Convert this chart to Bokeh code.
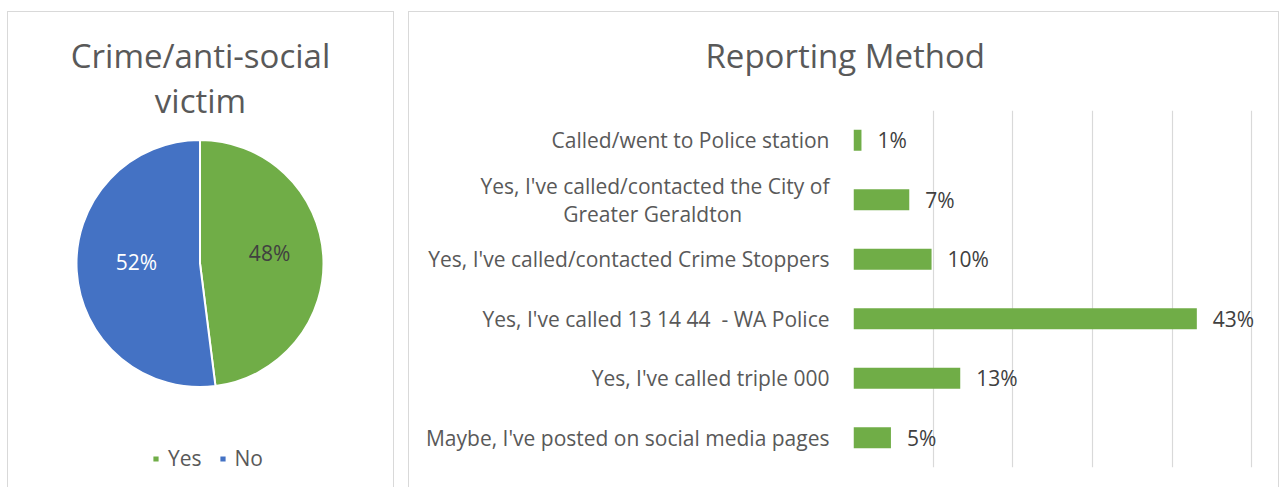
import math
from bokeh.plotting import figure
from bokeh.models import (Range1d, FactorRange, Label, Title, ColumnDataSource,
                          Legend, LegendItem, FixedTicker)
from bokeh.embed import file_html
from bokeh.resources import INLINE
from bokeh.core.properties import value

# ---------------- data ----------------
pie_title_lines = ["Crime/anti-social", "victim"]
pie_labels = ["Yes", "No"]
pie_values = [48, 52]
pie_colors = ["#70AD47", "#4472C4"]
pie_text_colors = ["#404040", "#FFFFFF"]

bar_title = "Reporting Method"
# (non-breaking spaces keep Excel's centred wrap and the double space visible)
methods = [
    "Called/went to Police station",
    "Yes, I've called/contacted the City of\nGreater Geraldton" + "\u00a0" * 16,
    "Yes, I've called/contacted Crime Stoppers",
    "Yes, I've called 13 14 44\u00a0 - WA Police",
    "Yes, I've called triple 000",
    "Maybe, I've posted on social media pages",
]
method_values = [1.0, 7.0, 9.8, 43.1, 13.4, 4.7]
x_ticks = [0, 10, 20, 30, 40, 50]

# ---------------- style ----------------
FONT = "Open Sans"
TXT = "#595959"
DARK = "#404040"
GRID = "#D9D9D9"
H = 476
FS = "21px"

def panel_style(left, top):
    return {"border": "1px solid #D9D9D9", "border-bottom": "none",
            "position": "absolute", "left": f"{left}px", "top": f"{top}px"}

# ---------------- pie ----------------
W1 = 387
p1 = figure(width=W1, height=H, x_range=Range1d(0, W1), y_range=Range1d(0, H),
            output_backend="svg", toolbar_location=None, min_border=0)
p1.axis.visible = False
p1.grid.visible = False
p1.outline_line_color = None
p1.styles = panel_style(7, 11)

def fy(y_from_top):
    return H - y_from_top

cx, cy, R = 191.5, fy(251), 123.5
total = sum(pie_values)
starts, ends, lx, ly, ltxt = [], [], [], [], []
cum = 0
for v in pie_values:
    a0 = math.pi / 2 - 2 * math.pi * cum / total
    a1 = math.pi / 2 - 2 * math.pi * (cum + v) / total
    starts.append(a0)
    ends.append(a1)
    mid = (a0 + a1) / 2
    lx.append(cx + 0.54 * R * math.cos(mid) + 3)
    ly.append(cy + 0.54 * R * math.sin(mid) + 6)
    ltxt.append(f"{round(100 * v / total)}%")
    cum += v

src1 = ColumnDataSource(dict(label=pie_labels, start=starts, end=ends, color=pie_colors,
                             lx=lx, ly=ly, txt=ltxt, tcol=pie_text_colors))
wr = p1.wedge(x=cx, y=cy, radius=R, radius_units="screen", start_angle="start", end_angle="end",
              direction="clock", fill_color="color", line_color="white", line_width=2, source=src1)
p1.text(x="lx", y="ly", text="txt", text_color="tcol", text_align="center", text_baseline="middle",
        text_font=value(FONT), text_font_size=FS, source=src1)

for i, line in enumerate(pie_title_lines):
    p1.add_layout(Label(x=192, y=fy(43 + 45 * i), text=line, text_align="center",
                        text_baseline="alphabetic", text_font=FONT, text_font_size="33px",
                        text_color=TXT))

legend = Legend(items=[LegendItem(label=lab, renderers=[wr], index=i) for i, lab in enumerate(pie_labels)],
                orientation="horizontal", location=(143, 16), padding=0, margin=0,
                glyph_width=9, glyph_height=9, label_standoff=8, spacing=16,
                label_text_font=FONT, label_text_font_size=FS, label_text_color=TXT,
                border_line_color=None, background_fill_alpha=0)
p1.add_layout(legend)

# ---------------- bars ----------------
W2 = 871
FRAME_L, GRID50, MB_R, MB_T, MB_B = 444, 842.3, 2, 98, 21
x_end = 50 * (W2 - FRAME_L - MB_R) / (GRID50 - FRAME_L)
p2 = figure(width=W2, height=H, y_range=FactorRange(factors=methods[::-1]), x_range=Range1d(0, x_end),
            output_backend="svg", toolbar_location=None,
            min_border_left=FRAME_L, min_border_right=MB_R, min_border_top=MB_T, min_border_bottom=MB_B)
p2.styles = panel_style(408, 11)
p2.outline_line_color = None
src2 = ColumnDataSource(dict(m=methods, v=method_values, t=[f"{round(v)}%" for v in method_values]))
p2.hbar(y="m", right="v", height=0.35, fill_color="#70AD47", line_color=None, source=src2)
p2.text(x="v", y="m", text="t", x_offset=16, text_baseline="middle", text_align="left",
        text_font=value(FONT), text_font_size=FS, text_color=DARK, source=src2)

p2.xaxis.visible = False
p2.xgrid.ticker = FixedTicker(ticks=x_ticks)
p2.xgrid.grid_line_color = GRID
p2.xgrid.grid_line_width = 1.2
p2.ygrid.grid_line_color = None
ax = p2.yaxis[0]
ax.axis_line_color = None
ax.major_tick_line_color = None
ax.minor_tick_line_color = None
ax.major_tick_out = 0
ax.major_tick_in = 0
ax.major_label_standoff = 24
ax.major_label_text_font = FONT
ax.major_label_text_font_size = FS
ax.major_label_text_color = TXT
ax.major_label_text_line_height = 1.0

# gap between title and plot area (an empty spacer title sits under the real one)
p2.add_layout(Title(text=" ", text_font_size="1px", standoff=30), "above")
p2.title.text = bar_title
p2.title.align = "left"
p2.title.offset = -148
p2.title.standoff = 0
p2.title.text_font = FONT
p2.title.text_font_size = "33px"
p2.title.text_font_style = "normal"
p2.title.text_color = TXT

open("out.html", "w").write(file_html([p1, p2], INLINE))
